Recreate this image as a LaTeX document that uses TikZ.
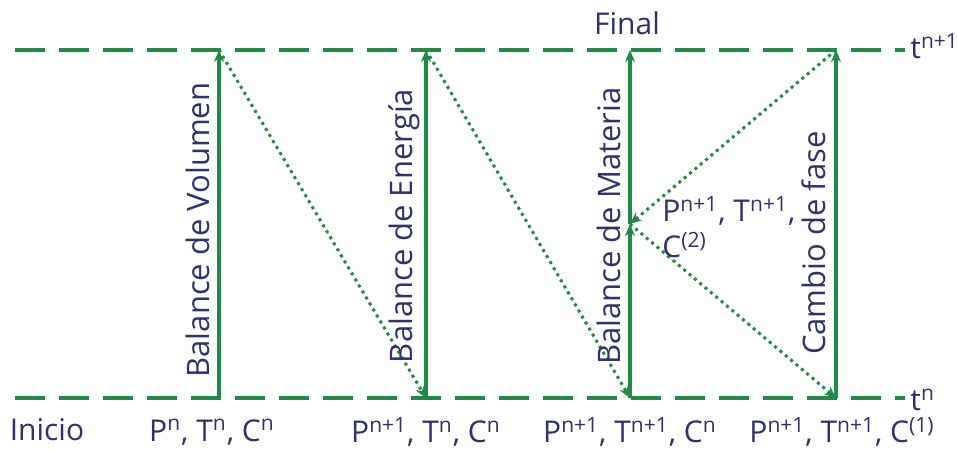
\documentclass[tikz,border=0pt]{standalone}
\usepackage{fontspec}
\setmainfont{Open Sans}
\usetikzlibrary{positioning,arrows.meta}
\definecolor{stepgreen}{HTML}{1E8C45}
\definecolor{inkblue}{HTML}{2E3172}

\begin{document}
\begin{tikzpicture}[
    x=0.5pt, y=-0.5pt,
    timeLine/.style={line width=1.6pt, draw=stepgreen, dash pattern=on 15pt off 7pt},
    stepArrow/.style={line width=1.6pt, draw=stepgreen, -{Stealth[length=6pt,width=5pt]}},
    linkArrow/.style={line width=1.5pt, draw=stepgreen, dotted, -{Stealth[length=6pt,width=5pt]}},
    stateText/.style={text=inkblue, font=\fontsize{15}{18}\selectfont, inner sep=1pt},
    stepText/.style={text=inkblue, font=\fontsize{15.5}{18}\selectfont, rotate=90, inner sep=1pt}
]
    \useasboundingbox (0,0) rectangle (957,449);

    % Linee dei tempi
    \coordinate (topL) at (15,50);
    \coordinate (topR) at (905,50);
    \coordinate (botL) at (15,398);
    \coordinate (botR) at (905,398);
    \draw[timeLine] (topL) -- (topR);
    \draw[timeLine] (botL) -- (botR);
    \node[stateText, anchor=west] (tnn) at (908,46) {t\textsuperscript{n+1}};
    \node[stateText, anchor=west] (tn) at (908,400) {t\textsuperscript{n}};

    % Estremi dei passi
    \coordinate (volB) at (219,398);  \coordinate (volT) at (219,50);
    \coordinate (eneB) at (426,398);  \coordinate (eneT) at (426,50);
    \coordinate (matB) at (630,398);  \coordinate (matT) at (630,50);
    \coordinate (matM) at (630,224);
    \coordinate (fasB) at (836,398);  \coordinate (fasT) at (836,50);

    % Passi (frecce verticali)
    \draw[stepArrow] (volB) -- (volT);
    \draw[stepArrow] (eneB) -- (eneT);
    \draw[stepArrow] (matB) -- (matM);
    \draw[stepArrow] (matM) -- (matT);
    \draw[stepArrow] (fasB) -- (fasT);

    % Collegamenti punteggiati
    \draw[linkArrow] (volT) -- (eneB);
    \draw[linkArrow] (eneT) -- (matB);
    \draw[linkArrow] (matM) -- (fasB);
    \draw[linkArrow] (fasT) -- (matM);

    % Nomi dei passi
    \node[stepText] (volName) at (198,230) {Balance de Volumen};
    \node[stepText] (eneName) at (404,226) {Balance de Energía};
    \node[stepText] (matName) at (609,226) {Balance de Materia};
    \node[stepText] (fasName) at (814,243) {Cambio de fase};

    % Stati
    \node[stateText] (final) at (627,23) {Final};
    \node[stateText] (inicio) at (47,430) {Inicio};
    \node[stateText] (st0) at (212,432) {P\textsuperscript{n}, T\textsuperscript{n}, C\textsuperscript{n}};
    \node[stateText] (st1) at (426,432) {P\textsuperscript{n+1}, T\textsuperscript{n}, C\textsuperscript{n}};
    \node[stateText] (st2) at (630,432) {P\textsuperscript{n+1}, T\textsuperscript{n+1}, C\textsuperscript{n}};
    \node[stateText] (st3) at (842,432) {P\textsuperscript{n+1}, T\textsuperscript{n+1}, C\textsuperscript{(1)}};
    \node[stateText, anchor=north west, align=left] (stM) at (660,194) {P\textsuperscript{n+1}, T\textsuperscript{n+1},\\C\textsuperscript{(2)}};
\end{tikzpicture}
\end{document}
